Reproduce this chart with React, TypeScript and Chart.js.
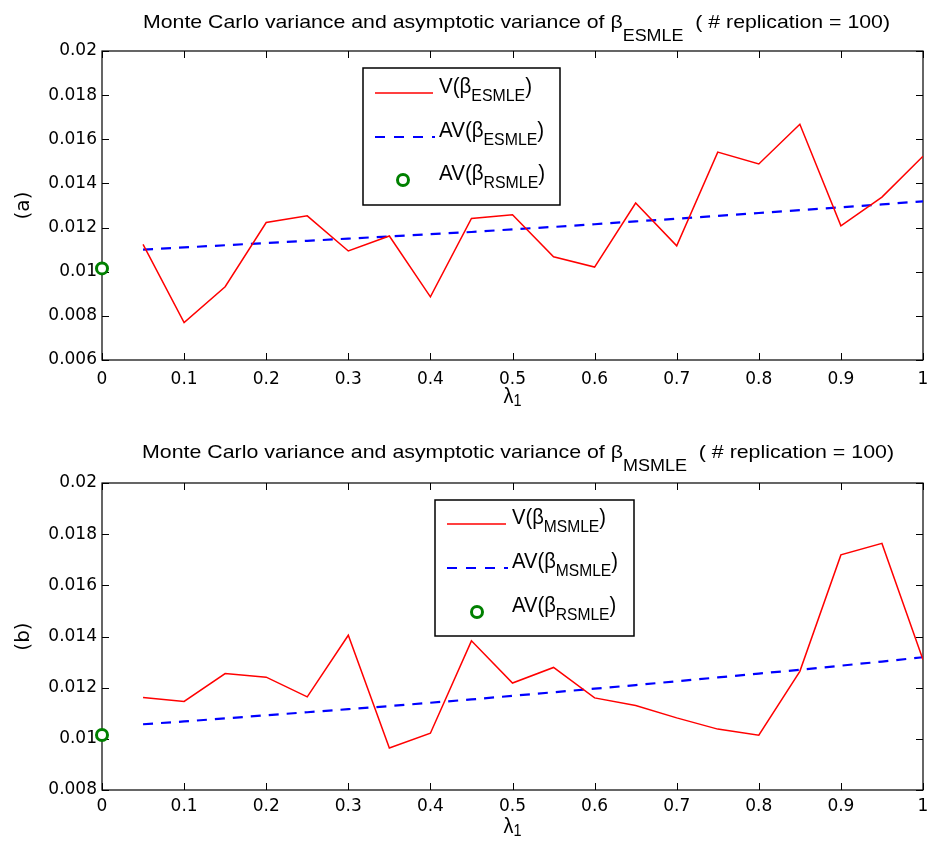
import React, { useEffect, useRef } from 'react';
import { Chart, registerables } from 'chart.js';

Chart.register(...registerables);

const FONT = '"Liberation Sans", Arial, Helvetica, sans-serif';
const TICK_FONT = '"DejaVu Sans", "Liberation Sans", Arial, sans-serif';

// ---------- data ----------
const lambda1 = [0.05, 0.1, 0.15, 0.2, 0.25, 0.3, 0.35, 0.4, 0.45, 0.5, 0.55, 0.6, 0.65, 0.7, 0.75, 0.8, 0.85, 0.9, 0.95, 1.0];

const vEsmle = [0.01124, 0.0077, 0.00932, 0.01223, 0.01253, 0.01094, 0.01162, 0.00886, 0.01241, 0.01258, 0.01068, 0.01021, 0.01311, 0.01117, 0.01542, 0.01488, 0.01668, 0.01208, 0.01338, 0.01523];
const avEsmle = [0.0110, 0.0111, 0.0112, 0.0113, 0.0114, 0.0115, 0.0116, 0.0117, 0.0118, 0.01192, 0.01203, 0.01215, 0.01228, 0.0124, 0.01253, 0.01266, 0.01279, 0.01292, 0.01305, 0.01319];

const vMsmle = [0.01162, 0.01146, 0.01255, 0.01241, 0.01164, 0.01405, 0.00964, 0.01022, 0.01383, 0.01218, 0.01279, 0.0116, 0.0113, 0.01082, 0.01038, 0.01014, 0.01264, 0.01719, 0.01764, 0.01309];
const avMsmle = [0.01057, 0.01068, 0.0108, 0.01092, 0.01104, 0.01116, 0.01128, 0.01141, 0.01154, 0.01168, 0.01182, 0.01196, 0.0121, 0.01225, 0.0124, 0.01255, 0.0127, 0.01286, 0.01302, 0.01319];

const rsmleLambda = [0];
const avRsmle = [0.01015];

const xTickValues = [0, 0.1, 0.2, 0.3, 0.4, 0.5, 0.6, 0.7, 0.8, 0.9, 1];
const xTickLabels = ['0', '0.1', '0.2', '0.3', '0.4', '0.5', '0.6', '0.7', '0.8', '0.9', '1'];
const yTickValuesTop = [0.006, 0.008, 0.01, 0.012, 0.014, 0.016, 0.018, 0.02];
const yTickLabelsTop = ['0.006', '0.008', '0.01', '0.012', '0.014', '0.016', '0.018', '0.02'];
const yTickValuesBottom = [0.008, 0.01, 0.012, 0.014, 0.016, 0.018, 0.02];
const yTickLabelsBottom = ['0.008', '0.01', '0.012', '0.014', '0.016', '0.018', '0.02'];

// ---------- helpers ----------
type Part = { t: string; sub?: boolean };

function measureRich(ctx: CanvasRenderingContext2D, parts: Part[], mainPx: number, subPx: number) {
  let w = 0;
  for (const p of parts) {
    ctx.font = `${p.sub ? subPx : mainPx}px ${FONT}`;
    w += ctx.measureText(p.t).width;
  }
  return w;
}

function drawRich(
  ctx: CanvasRenderingContext2D,
  parts: Part[],
  x: number,
  baseline: number,
  mainPx: number,
  subPx: number,
  subDrop: number,
  sx: number
) {
  ctx.save();
  ctx.translate(x, baseline);
  ctx.scale(sx, 1);
  ctx.fillStyle = '#000';
  ctx.textAlign = 'left';
  ctx.textBaseline = 'alphabetic';
  let cx = 0;
  for (const p of parts) {
    ctx.font = `${p.sub ? subPx : mainPx}px ${FONT}`;
    ctx.fillText(p.t, cx, p.sub ? subDrop : 0);
    cx += ctx.measureText(p.t).width;
  }
  ctx.restore();
}

interface PanelCfg {
  width: number;
  height: number;
  areaTop: number;
  areaBottom: number;
  yMin: number;
  yMax: number;
  yTicks: number[];
  yLabels: string[];
  v: number[];
  av: number[];
  est: string;
  panelLabel: string;
  titleX: number;
  titleW: number;
  titleBaseline: number;
  xTickPad: number;
  xLabelBaseline: number;
  legend: {
    x: number; y: number; w: number; h: number;
    line0: number; line1: number; textX: number; textW: number;
    rows: number[]; circleX: number;
  };
}

function makeDecor(cfg: PanelCfg) {
  return {
    id: 'matlabDecor',
    beforeDatasetsDraw(chart: any) {
      const ctx: CanvasRenderingContext2D = chart.ctx;
      const a = chart.chartArea;
      const xs = chart.scales.x;
      const ys = chart.scales.y;
      ctx.save();
      ctx.strokeStyle = '#000';
      ctx.lineWidth = 1.2;
      ctx.strokeRect(a.left, a.top, a.right - a.left, a.bottom - a.top);
      ctx.lineWidth = 1;
      const tl = 7;
      ctx.beginPath();
      for (const v of xTickValues) {
        const px = Math.round(xs.getPixelForValue(v)) + 0.5;
        ctx.moveTo(px, a.bottom); ctx.lineTo(px, a.bottom - tl);
        ctx.moveTo(px, a.top); ctx.lineTo(px, a.top + tl);
      }
      for (const v of cfg.yTicks) {
        const py = Math.round(ys.getPixelForValue(v)) + 0.5;
        ctx.moveTo(a.left, py); ctx.lineTo(a.left + tl, py);
        ctx.moveTo(a.right, py); ctx.lineTo(a.right - tl, py);
      }
      ctx.stroke();
      ctx.restore();
    },
    afterDatasetsDraw(chart: any) {
      const ctx: CanvasRenderingContext2D = chart.ctx;
      const L = cfg.legend;
      ctx.save();
      ctx.fillStyle = '#fff';
      ctx.fillRect(L.x, L.y, L.w, L.h);
      ctx.strokeStyle = '#000';
      ctx.lineWidth = 1.5;
      ctx.strokeRect(L.x, L.y, L.w, L.h);
      ctx.strokeStyle = '#ff0000';
      ctx.lineWidth = 1.5;
      ctx.beginPath();
      ctx.moveTo(L.line0, L.rows[0]); ctx.lineTo(L.line1, L.rows[0]);
      ctx.stroke();
      ctx.strokeStyle = '#0000ff';
      ctx.lineWidth = 2.2;
      ctx.setLineDash([10, 9]);
      ctx.beginPath();
      ctx.moveTo(L.line0, L.rows[1]); ctx.lineTo(L.line1 + 2, L.rows[1]);
      ctx.stroke();
      ctx.setLineDash([]);
      ctx.strokeStyle = '#008000';
      ctx.lineWidth = 3;
      ctx.beginPath();
      ctx.arc(L.circleX, L.rows[2], 5.5, 0, Math.PI * 2);
      ctx.stroke();
      ctx.restore();

      const rowsText: Part[][] = [
        [{ t: 'V(β' }, { t: cfg.est, sub: true }, { t: ')' }],
        [{ t: 'AV(β' }, { t: cfg.est, sub: true }, { t: ')' }],
        [{ t: 'AV(β' }, { t: 'RSMLE', sub: true }, { t: ')' }],
      ];
      const mainPx = 22, subPx = 17, drop = 8;
      const w0 = measureRich(ctx, rowsText[0], mainPx, subPx);
      const sx = L.textW / w0;
      rowsText.forEach((parts, i) => drawRich(ctx, parts, L.textX, L.rows[i], mainPx, subPx, drop, sx));
    },
    afterDraw(chart: any) {
      const ctx: CanvasRenderingContext2D = chart.ctx;
      const a = chart.chartArea;
      const tParts: Part[] = [
        { t: 'Monte Carlo variance and asymptotic variance of β' },
        { t: cfg.est, sub: true },
        { t: '  ( # replication = 100)' },
      ];
      const tw = measureRich(ctx, tParts, 19, 16);
      drawRich(ctx, tParts, cfg.titleX, cfg.titleBaseline, 19, 16, 13, cfg.titleW / tw);
      ctx.save();
      ctx.translate(24, (a.top + a.bottom) / 2);
      ctx.rotate(-Math.PI / 2);
      ctx.font = `20px ${TICK_FONT}`;
      ctx.fillStyle = '#000';
      ctx.textAlign = 'center';
      ctx.textBaseline = 'middle';
      ctx.fillText(cfg.panelLabel, 0, 0);
      ctx.restore();
      const cxm = (a.left + a.right) / 2;
      drawRich(ctx, [{ t: 'λ' }, { t: '1', sub: true }], cxm - 9, cfg.xLabelBaseline, 22, 16, 3, 0.9);
    },
  };
}

function Panel({ cfg }: { cfg: PanelCfg }) {
  const ref = useRef<HTMLCanvasElement | null>(null);
  useEffect(() => {
    if (!ref.current) return;
    const chart = new Chart(ref.current, {
      type: 'line',
      data: {
        datasets: [
          {
            data: lambda1.map((l, i) => ({ x: l, y: cfg.v[i] })),
            borderColor: '#ff0000',
            borderWidth: 1.5,
            pointRadius: 0,
            tension: 0,
            fill: false,
          },
          {
            data: lambda1.map((l, i) => ({ x: l, y: cfg.av[i] })),
            borderColor: '#0000ff',
            borderWidth: 2.2,
            borderDash: [10, 8],
            pointRadius: 0,
            tension: 0,
            fill: false,
          },
          {
            data: rsmleLambda.map((l, i) => ({ x: l, y: avRsmle[i] })),
            showLine: false,
            pointRadius: 5.5,
            pointBorderWidth: 3,
            pointBorderColor: '#008000',
            pointBackgroundColor: '#ffffff',
            clip: false,
          } as any,
        ],
      },
      options: {
        responsive: false,
        animation: false,
        devicePixelRatio: 1,
        events: [],
        layout: { padding: { top: cfg.areaTop, left: 0, right: 9, bottom: 0 } },
        plugins: {
          legend: { display: false },
          title: { display: false },
          tooltip: { enabled: false },
        },
        scales: {
          x: {
            type: 'linear',
            min: 0,
            max: 1,
            grid: { display: false, drawTicks: false },
            border: { display: false },
            afterBuildTicks: (s: any) => {
              s.ticks = xTickValues.map((v) => ({ value: v }));
            },
            afterFit: (s: any) => {
              s.height = cfg.height - cfg.areaBottom;
              s.paddingLeft = 5;
              s.paddingRight = 5;
            },
            ticks: {
              autoSkip: false,
              maxRotation: 0,
              padding: cfg.xTickPad,
              color: '#000',
              font: { family: TICK_FONT, size: 17 },
              callback: (v: any) => {
                const i = xTickValues.findIndex((t) => Math.abs(t - Number(v)) < 1e-9);
                return i >= 0 ? xTickLabels[i] : '';
              },
            },
          },
          y: {
            type: 'linear',
            min: cfg.yMin,
            max: cfg.yMax,
            grid: { display: false, drawTicks: false },
            border: { display: false },
            afterBuildTicks: (s: any) => {
              s.ticks = cfg.yTicks.map((v) => ({ value: v }));
            },
            afterFit: (s: any) => {
              s.width = 102;
              s.paddingTop = 5;
              s.paddingBottom = 5;
            },
            ticks: {
              autoSkip: false,
              padding: 5,
              color: '#000',
              font: { family: TICK_FONT, size: 17 },
              callback: (v: any) => {
                const i = cfg.yTicks.findIndex((t) => Math.abs(t - Number(v)) < 1e-9);
                return i >= 0 ? cfg.yLabels[i] : '';
              },
            },
          },
        },
      },
      plugins: [makeDecor(cfg)],
    } as any);
    return () => chart.destroy();
  }, [cfg]);
  return <canvas ref={ref} width={cfg.width} height={cfg.height} style={{ display: 'block', width: cfg.width, height: cfg.height }} />;
}

const topCfg: PanelCfg = {
  width: 932,
  height: 421,
  areaTop: 51,
  areaBottom: 360,
  yMin: 0.006,
  yMax: 0.02,
  yTicks: yTickValuesTop,
  yLabels: yTickLabelsTop,
  v: vEsmle,
  av: avEsmle,
  est: 'ESMLE',
  panelLabel: '(a)',
  titleX: 143,
  titleW: 747,
  titleBaseline: 28,
  xTickPad: 9,
  xLabelBaseline: 403,
  legend: { x: 363, y: 68, w: 197, h: 137, line0: 375, line1: 433, textX: 439, textW: 93, rows: [93, 137, 180], circleX: 403 },
};

const bottomCfg: PanelCfg = {
  width: 932,
  height: 422,
  areaTop: 62,
  areaBottom: 369,
  yMin: 0.008,
  yMax: 0.02,
  yTicks: yTickValuesBottom,
  yLabels: yTickLabelsBottom,
  v: vMsmle,
  av: avMsmle,
  est: 'MSMLE',
  panelLabel: '(b)',
  titleX: 142,
  titleW: 752,
  titleBaseline: 37,
  xTickPad: 6,
  xLabelBaseline: 412,
  legend: { x: 435, y: 79, w: 199, h: 136, line0: 447, line1: 506, textX: 512, textW: 94, rows: [103, 147, 191], circleX: 477 },
};

export default function App() {
  return (
    <div style={{ position: 'fixed', left: 0, top: 0, width: 932, height: 843, background: '#fff', overflow: 'hidden' }}>
      <div style={{ position: 'absolute', left: 0, top: 0 }}>
        <Panel cfg={topCfg} />
      </div>
      <div style={{ position: 'absolute', left: 0, top: 421 }}>
        <Panel cfg={bottomCfg} />
      </div>
    </div>
  );
}
